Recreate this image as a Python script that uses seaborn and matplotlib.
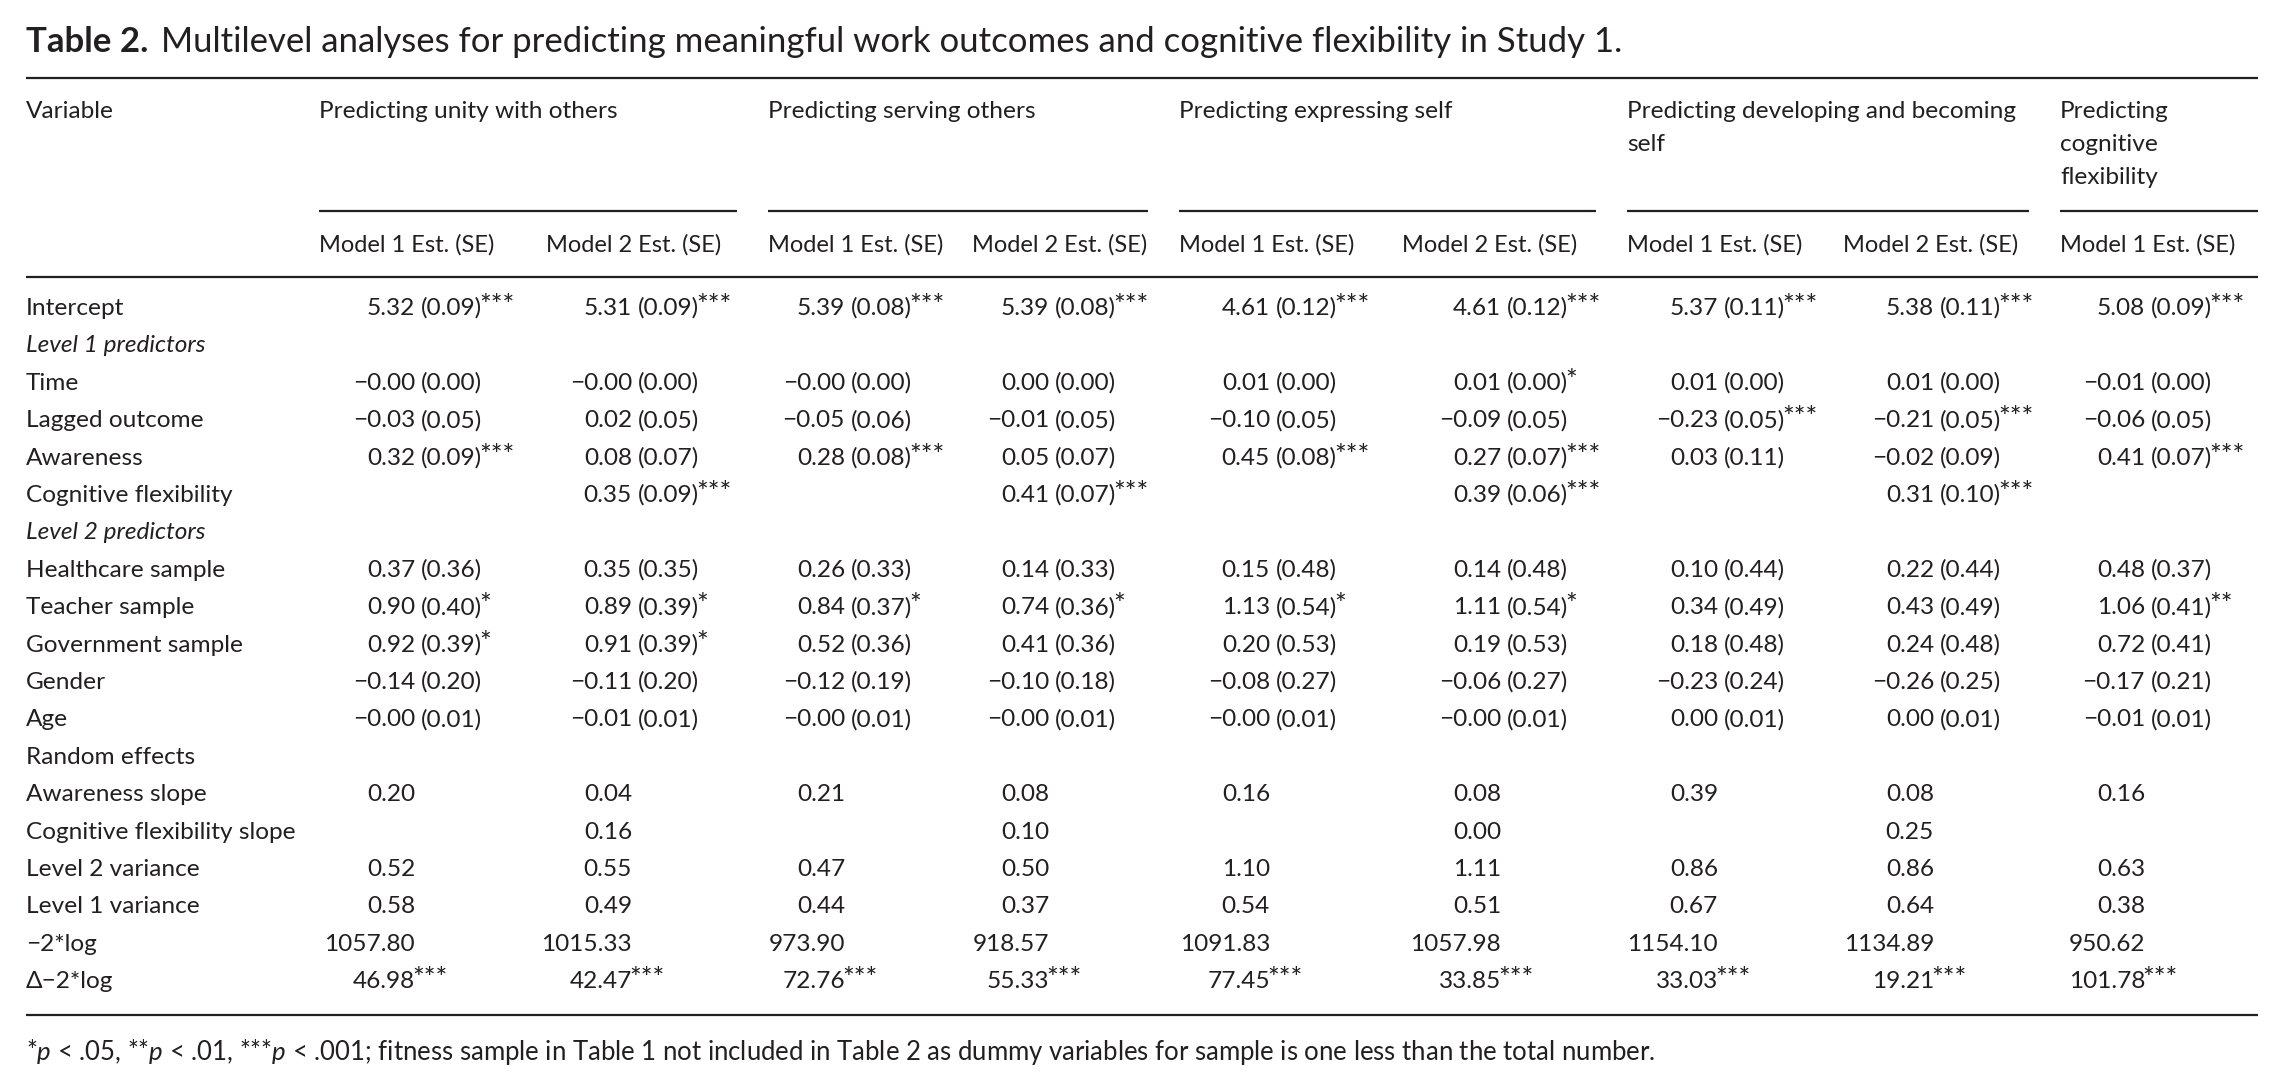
import re
import matplotlib
matplotlib.use("Agg")
import matplotlib.pyplot as plt
import seaborn as sns

# ---- table content ----
title_bold = "Table 2."
title_rest = "Multilevel analyses for predicting meaningful work outcomes and cognitive flexibility in Study 1."

group_headers = ["Predicting unity with others", "Predicting serving others",
                 "Predicting expressing self", "Predicting developing and becoming\nself",
                 "Predicting\ncognitive\nflexibility"]
group_spans = [2, 2, 2, 2, 1]
model_headers = ["Model 1 Est. (SE)", "Model 2 Est. (SE)"] * 4 + ["Model 1 Est. (SE)"]

row_labels = ["Intercept", "Level 1 predictors", "Time", "Lagged outcome", "Awareness",
              "Cognitive flexibility", "Level 2 predictors", "Healthcare sample",
              "Teacher sample", "Government sample", "Gender", "Age", "Random effects",
              "Awareness slope", "Cognitive flexibility slope", "Level 2 variance",
              "Level 1 variance", "\u22122*log", "\u0394\u22122*log"]
italic_rows = ["Level 1 predictors", "Level 2 predictors"]

M = "\u2212"
intercept = ["5.32 (0.09)***", "5.31 (0.09)***", "5.39 (0.08)***", "5.39 (0.08)***", "4.61 (0.12)***",
             "4.61 (0.12)***", "5.37 (0.11)***", "5.38 (0.11)***", "5.08 (0.09)***"]
time_ = [M + "0.00 (0.00)", M + "0.00 (0.00)", M + "0.00 (0.00)", "0.00 (0.00)", "0.01 (0.00)",
         "0.01 (0.00)*", "0.01 (0.00)", "0.01 (0.00)", M + "0.01 (0.00)"]
lagged = [M + "0.03 (0.05)", "0.02 (0.05)", M + "0.05 (0.06)", M + "0.01 (0.05)", M + "0.10 (0.05)",
          M + "0.09 (0.05)", M + "0.23 (0.05)***", M + "0.21 (0.05)***", M + "0.06 (0.05)"]
awareness = ["0.32 (0.09)***", "0.08 (0.07)", "0.28 (0.08)***", "0.05 (0.07)", "0.45 (0.08)***",
             "0.27 (0.07)***", "0.03 (0.11)", M + "0.02 (0.09)", "0.41 (0.07)***"]
cog_flex = ["", "0.35 (0.09)***", "", "0.41 (0.07)***", "", "0.39 (0.06)***", "", "0.31 (0.10)***", ""]
healthcare = ["0.37 (0.36)", "0.35 (0.35)", "0.26 (0.33)", "0.14 (0.33)", "0.15 (0.48)",
              "0.14 (0.48)", "0.10 (0.44)", "0.22 (0.44)", "0.48 (0.37)"]
teacher = ["0.90 (0.40)*", "0.89 (0.39)*", "0.84 (0.37)*", "0.74 (0.36)*", "1.13 (0.54)*",
           "1.11 (0.54)*", "0.34 (0.49)", "0.43 (0.49)", "1.06 (0.41)**"]
government = ["0.92 (0.39)*", "0.91 (0.39)*", "0.52 (0.36)", "0.41 (0.36)", "0.20 (0.53)",
              "0.19 (0.53)", "0.18 (0.48)", "0.24 (0.48)", "0.72 (0.41)"]
gender = [M + "0.14 (0.20)", M + "0.11 (0.20)", M + "0.12 (0.19)", M + "0.10 (0.18)", M + "0.08 (0.27)",
          M + "0.06 (0.27)", M + "0.23 (0.24)", M + "0.26 (0.25)", M + "0.17 (0.21)"]
age = [M + "0.00 (0.01)", M + "0.01 (0.01)", M + "0.00 (0.01)", M + "0.00 (0.01)", M + "0.00 (0.01)",
       M + "0.00 (0.01)", "0.00 (0.01)", "0.00 (0.01)", M + "0.01 (0.01)"]
awareness_slope = ["0.20", "0.04", "0.21", "0.08", "0.16", "0.08", "0.39", "0.08", "0.16"]
cog_flex_slope = ["", "0.16", "", "0.10", "", "0.00", "", "0.25", ""]
level2_var = ["0.52", "0.55", "0.47", "0.50", "1.10", "1.11", "0.86", "0.86", "0.63"]
level1_var = ["0.58", "0.49", "0.44", "0.37", "0.54", "0.51", "0.67", "0.64", "0.38"]
neg2log = ["1057.80", "1015.33", "973.90", "918.57", "1091.83", "1057.98", "1154.10", "1134.89", "950.62"]
delta_neg2log = ["46.98***", "42.47***", "72.76***", "55.33***", "77.45***", "33.85***",
                 "33.03***", "19.21***", "101.78***"]

row_values = [intercept, None, time_, lagged, awareness, cog_flex, None, healthcare, teacher,
              government, gender, age, None, awareness_slope, cog_flex_slope, level2_var,
              level1_var, neg2log, delta_neg2log]

footnote = (r"*$\mathit{p}$ < .05, **$\mathit{p}$ < .01, ***$\mathit{p}$ < .001; fitness sample in "
            "Table 1 not included in Table 2 as dummy variables for sample is one less than the total number.")

# ---- layout (pixels) ----
W, H = 2284, 1091
LEFT, RIGHT = 26, 2258
col_left = [319, 546, 768, 972, 1179, 1402, 1627, 1843, 2060]
est_right = [415, 632, 845, 1049, 1270, 1501, 1718, 1934, 2145]
TITLE_Y, TOP_RULE = 52, 78
HEAD_Y, HEAD_STEP = 118, 33
GROUP_RULE, MODEL_Y, HEAD_RULE = 211, 252, 277
ROW0, ROW_STEP = 315, 37.4
BOTTOM_RULE, NOTE_Y = 1015, 1060
INK = "#231f20"
BODY = 17.6
HEAD = 17.0
STAR = 20

sns.set_theme(style="white")
plt.rcParams["font.family"] = ["Lato", "DejaVu Sans"]
plt.rcParams["mathtext.fontset"] = "custom"
plt.rcParams["mathtext.rm"] = "Lato"
plt.rcParams["mathtext.it"] = "Lato:italic"
plt.rcParams["mathtext.bf"] = "Lato:bold"

fig = plt.figure(figsize=(W / 100, H / 100), dpi=100)
ax = fig.add_axes([0, 0, 1, 1])
ax.set_xlim(0, W)
ax.set_ylim(H, 0)
ax.axis("off")
renderer = fig.canvas.get_renderer()

# title
t = ax.text(LEFT, TITLE_Y, title_bold, fontsize=25, fontweight="bold", color=INK, va="baseline")
tw = t.get_window_extent(renderer).width
ax.text(LEFT + tw + 13, TITLE_Y, title_rest, fontsize=25, color=INK, va="baseline")

# rules
ax.hlines([TOP_RULE, HEAD_RULE, BOTTOM_RULE], LEFT, RIGHT, color=INK, lw=1.6)
starts = [0]
for s in group_spans[:-1]:
    starts.append(starts[-1] + s)
for g, (head, c0) in enumerate(zip(group_headers, starts)):
    x0 = col_left[c0]
    x1 = col_left[starts[g + 1]] - 31 if g + 1 < len(starts) else RIGHT
    ax.hlines(GROUP_RULE, x0, x1, color=INK, lw=1.6)
    for k, line in enumerate(head.split("\n")):
        ax.text(x0, HEAD_Y + k * HEAD_STEP, line, fontsize=BODY, color=INK, va="baseline")

ax.text(LEFT, HEAD_Y, "Variable", fontsize=BODY, color=INK, va="baseline")
for x, lab in zip(col_left, model_headers):
    ax.text(x, MODEL_Y, lab, fontsize=HEAD, color=INK, va="baseline")

# body: estimate right-aligned on its anchor, SE and stars follow
num_re = re.compile(r"^([\u2212\d.]+)\s*(\([^)]*\))?(\**)$")
for i, (lab, vals) in enumerate(zip(row_labels, row_values)):
    y = ROW0 + i * ROW_STEP
    ax.text(LEFT, y, lab, fontsize=BODY, color=INK, va="baseline",
            fontstyle="italic" if lab in italic_rows else "normal")
    if vals is None:
        continue
    for xr, v in zip(est_right, vals):
        if not v:
            continue
        est, se, stars = num_re.match(v).groups()
        ax.text(xr, y, est, fontsize=BODY, color=INK, va="baseline", ha="right")
        x = xr
        if se:
            st = ax.text(xr + 6, y, se, fontsize=BODY, color=INK, va="baseline", ha="left")
            x = st.get_window_extent(renderer).x1
        if stars:
            ax.text(x - 3, y, stars, fontsize=STAR, color=INK, va="baseline", ha="left")

ax.text(LEFT, NOTE_Y, footnote, fontsize=18.5, color=INK, va="baseline")

fig.savefig("out.png", dpi=100, facecolor="white")
